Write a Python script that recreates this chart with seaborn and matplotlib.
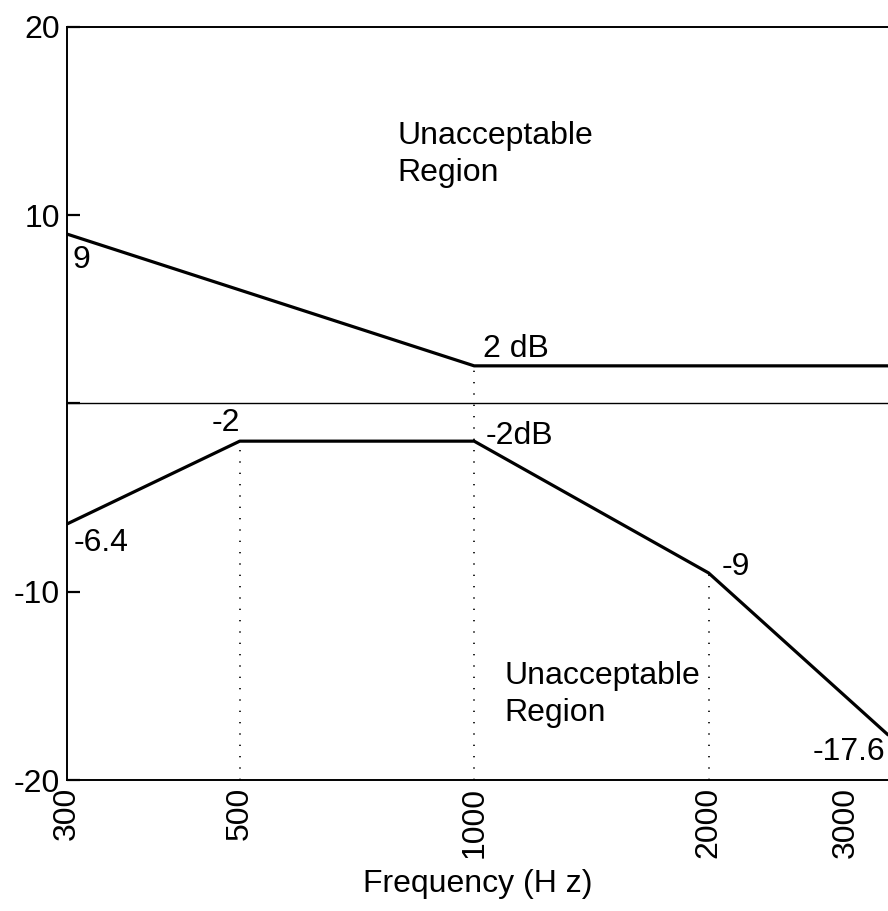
import matplotlib
matplotlib.use("Agg")
import matplotlib.pyplot as plt
import matplotlib.ticker as mticker
import seaborn as sns

# Frequency-response mask: upper and lower limits (dB) vs frequency (Hz)
upper_freq = [300, 1000, 3400]
upper_db = [9, 2, 2]
lower_freq = [300, 500, 1000, 2000, 3400]
lower_db = [-6.4, -2, -2, -9, -17.6]

x_ticks = [300, 500, 1000, 2000, 3000]
x_tick_labels = ["300", "500", "1000", "2000", "3000"]
y_ticks = [-20, -10, 0, 10, 20]
y_tick_labels = ["-20", "-10", "", "10", "20"]

sns.set_theme(style="white")
plt.rcParams["font.family"] = ["Liberation Sans", "DejaVu Sans"]
plt.rcParams["text.color"] = "black"
plt.rcParams["axes.labelcolor"] = "black"
plt.rcParams["xtick.color"] = "black"
plt.rcParams["ytick.color"] = "black"

FS = 23
fig = plt.figure(figsize=(8.88, 9.11), dpi=100)
ax = fig.add_axes([67 / 888, 1 - 780 / 911, 1 - 67 / 888, (780 - 27) / 911])

ax.set_xscale("log")
ax.set_xlim(300, 3400)
ax.set_ylim(-20, 20)

# zero reference line
ax.axhline(0, color="black", lw=1.0, zorder=2)

# dotted guides dropping from the break points to the bottom of the plot
upper_at = dict(zip(upper_freq, upper_db))
lower_at = dict(zip(lower_freq, lower_db))
guide_tops = {500: lower_at[500], 1000: upper_at[1000], 2000: lower_at[2000]}
dot_style = (0, (0.8, 6.0))
for f, top in guide_tops.items():
    ax.plot([f, f], [-20, top], color="black", lw=1.2, linestyle=dot_style, zorder=1)

sns.lineplot(x=upper_freq, y=upper_db, ax=ax, color="black", lw=2.3,
             estimator=None, sort=True, zorder=3)
sns.lineplot(x=lower_freq, y=lower_db, ax=ax, color="black", lw=2.3,
             estimator=None, sort=True, zorder=3)

# value annotations
ax.text(305, 8.4, "9", fontsize=FS, ha="left", va="top")
ax.text(1026, 2.45, "2 dB", fontsize=FS, ha="left", va="baseline")
ax.text(1035, -0.95, "-2dB", fontsize=FS, ha="left", va="top")
ax.text(500, -1.85, "-2", fontsize=FS, ha="right", va="bottom")
ax.text(306, -6.6, "-6.4", fontsize=FS, ha="left", va="top")
ax.text(2080, -8.7, "-9", fontsize=FS, ha="left", va="center")
ax.text(2720, -18.5, "-17.6", fontsize=FS, ha="left", va="center")

ax.text(798, 15.0, "Unacceptable\nRegion", fontsize=FS, ha="left", va="top",
        linespacing=1.3)
ax.text(1095, -13.7, "Unacceptable\nRegion", fontsize=FS, ha="left", va="top",
        linespacing=1.3)

# axes styling
ax.xaxis.set_major_locator(mticker.FixedLocator(x_ticks))
ax.xaxis.set_minor_locator(mticker.NullLocator())
ax.set_xticklabels(x_tick_labels, rotation=90, fontsize=FS)
ax.set_yticks(y_ticks)
ax.set_yticklabels(y_tick_labels, fontsize=FS)
ax.tick_params(axis="x", length=0, pad=5)
ax.tick_params(axis="y", direction="in", length=9.5, width=1.6, pad=5,
               left=True)
ax.set_xlabel("Frequency (H z)", fontsize=FS, labelpad=8)
ax.set_ylabel("")

for side in ["left", "top", "bottom"]:
    ax.spines[side].set_visible(True)
    ax.spines[side].set_color("black")
    ax.spines[side].set_linewidth(1.4)
ax.spines["right"].set_visible(False)
ax.grid(False)

fig.savefig("out.png", dpi=100)
